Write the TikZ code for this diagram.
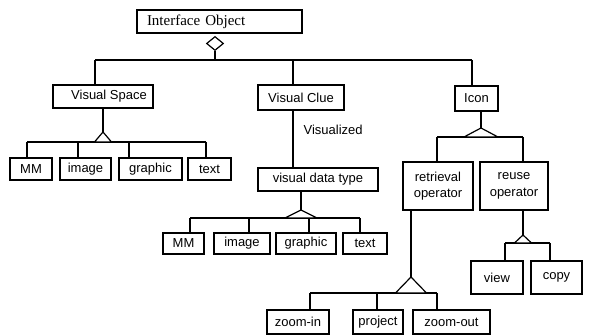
\documentclass[tikz,border=0pt]{standalone}
\usepackage{fontspec}
\setmainfont{Liberation Serif}
\setsansfont{Liberation Sans}
\usetikzlibrary{shapes.geometric}
\begin{document}
\begin{tikzpicture}[x=1pt,y=-1pt,line width=1.2pt,
  box/.style={draw,rectangle,inner sep=0pt,font=\sffamily\fontsize{13}{14.5}\selectfont},
  agg/.style={draw,fill=white,line join=miter},
  lbl/.style={font=\sffamily\fontsize{13}{14.5}\selectfont,inner sep=0pt}]
\useasboundingbox (0,0) rectangle (590,336);
% ---------- boxes ----------
\node[box,font=\rmfamily\fontsize{15}{17}\selectfont,minimum height=23pt,text width=145pt,inner xsep=10pt,align=left] (io) at (219.5,21.5) {Interface Object};
\node[box,minimum width=100pt,minimum height=23pt] (vs) at (103,96.5) {\hspace*{12pt}Visual Space};
\node[box,minimum width=86pt,minimum height=25pt] (vc) at (301,97.5) {Visual Clue};
\node[box,minimum width=43pt,minimum height=25pt] (icon) at (476.5,98.5) {Icon};
\node[box,minimum width=42pt,minimum height=22pt] (mm1) at (31,169) {MM};
\node[box,minimum width=51pt,minimum height=22pt] (img1) at (85.5,169) {image};
\node[box,minimum width=63pt,minimum height=22pt] (gr1) at (150.5,169) {graphic};
\node[box,minimum width=43pt,minimum height=22pt] (tx1) at (209.5,169) {text};
\node[box,minimum width=120pt,minimum height=23pt] (vdt) at (318,179.5) {visual data type};
\node[box,minimum width=41pt,minimum height=21pt] (mm2) at (183.5,243.5) {MM};
\node[box,minimum width=56pt,minimum height=21pt] (img2) at (242,243.5) {image};
\node[box,minimum width=60pt,minimum height=21pt] (gr2) at (306,243.5) {graphic};
\node[box,minimum width=44pt,minimum height=21pt] (tx2) at (365,243.5) {text};
\node[box,minimum width=70pt,minimum height=48pt,align=center] (ret) at (438,186) {retrieval\\[2pt]operator};
\node[box,minimum width=68pt,minimum height=48pt,align=center] (reu) at (514,186) {reuse\\[2pt]operator};
\node[box,minimum width=62pt,minimum height=24pt] (zin) at (298,322) {zoom-in};
\node[box,minimum width=50pt,minimum height=24pt] (prj) at (378,322) {project};
\node[box,minimum width=77pt,minimum height=24pt] (zout) at (451.5,322) {zoom-out};
\node[box,minimum width=52pt,minimum height=33pt] (view) at (497,277.5) {view};
\node[box,minimum width=51pt,minimum height=33pt] (copy) at (556.5,277.5) {copy};
\node[lbl,anchor=west] (vlz) at (303,130) {Visualized};
% ---------- Interface Object ----------
\node[draw,diamond,aspect=1.2,minimum width=17pt,minimum height=14pt,inner sep=0pt,fill=white] (iod) at (215,43.5) {};
\coordinate (b1l) at (95,60);
\coordinate (b1m) at (293,60);
\coordinate (b1r) at (472,60);
\draw (iod.south) -- (iod.south |- b1l);
\draw (b1l) -- (b1r);
\draw (b1l) -- (b1l |- vs.north);
\draw (b1m) -- (b1m |- vc.north);
\draw (b1r) -- (b1r |- icon.north);
% ---------- Visual Space ----------
\coordinate (t1) at (103,132);
\draw (vs.south) -- (t1);
\coordinate (b2a) at (27,142);
\coordinate (b2b) at (78,142);
\coordinate (b2c) at (129,142);
\coordinate (b2d) at (206,142);
\draw (b2a) -- (b2d);
\draw[agg] (t1) -- ++(-8.5,10) -- ++(17,0) -- cycle;
\draw (b2a) -- (b2a |- mm1.north);
\draw (b2b) -- (b2b |- img1.north);
\draw (b2c) -- (b2c |- gr1.north);
\draw (b2d) -- (b2d |- tx1.north);
% ---------- Visual Clue ----------
\draw (vc.south -| b1m) -- (vdt.north -| b1m);
\coordinate (t2) at (301,210);
\draw (vdt.south -| t2) -- (t2);
\coordinate (b3a) at (190,218);
\coordinate (b3b) at (249,218);
\coordinate (b3c) at (309,218);
\coordinate (b3d) at (360,218);
\draw (b3a) -- (b3d);
\draw[agg] (t2) -- ++(-16,8) -- ++(32,0) -- cycle;
\draw (b3a) -- (b3a |- mm2.north);
\draw (b3b) -- (b3b |- img2.north);
\draw (b3c) -- (b3c |- gr2.north);
\draw (b3d) -- (b3d |- tx2.north);
% ---------- Icon ----------
\coordinate (t3) at (481,128);
\draw (icon.south -| t3) -- (t3);
\coordinate (b4a) at (437,137);
\coordinate (b4b) at (523,137);
\draw (b4a) -- (b4b);
\draw[agg] (t3) -- ++(-17,9) -- ++(34,0) -- cycle;
\draw (b4a) -- (b4a |- ret.north);
\draw (b4b) -- (b4b |- reu.north);
% ---------- retrieval operator ----------
\coordinate (t4) at (411,277);
\draw (ret.south -| t4) -- (t4);
\coordinate (b5a) at (310,293);
\coordinate (b5b) at (377,293);
\coordinate (b5c) at (437,293);
\draw (b5a) -- (b5c);
\draw[agg] (t4) -- ++(-15.5,16) -- ++(31,0) -- cycle;
\draw (b5a) -- (b5a |- zin.north);
\draw (b5b) -- (b5b |- prj.north);
\draw (b5c) -- (b5c |- zout.north);
% ---------- reuse operator ----------
\coordinate (t5) at (523,235);
\draw (reu.south -| t5) -- (t5);
\coordinate (b6a) at (505,243);
\coordinate (b6b) at (550,243);
\draw (b6a) -- (b6b);
\draw[agg] (t5) -- ++(-8.5,8) -- ++(17,0) -- cycle;
\draw (b6a) -- (b6a |- view.north);
\draw (b6b) -- (b6b |- copy.north);
\end{tikzpicture}
\end{document}
